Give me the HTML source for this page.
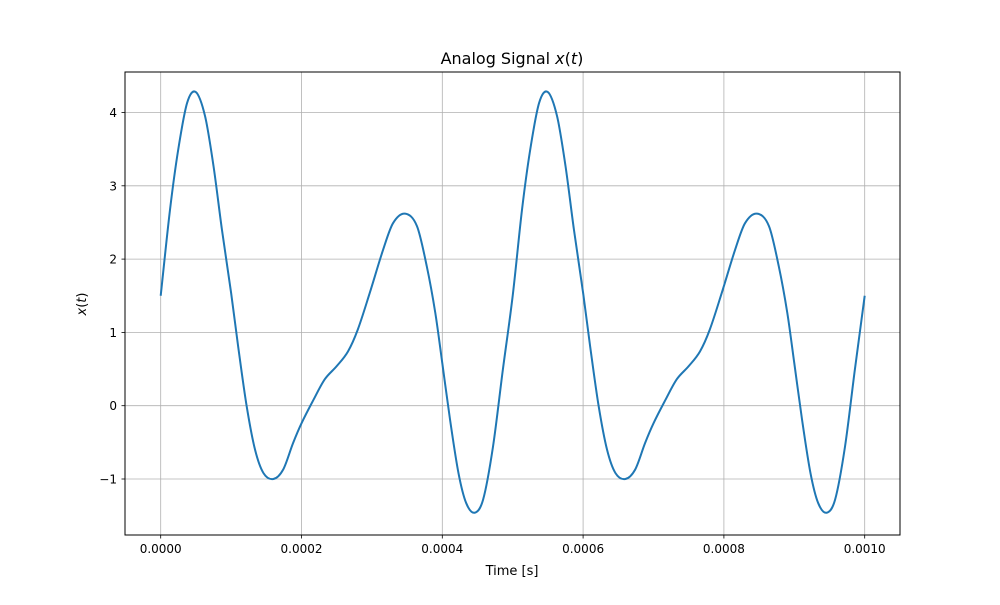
<!DOCTYPE html>
<html><head><meta charset="utf-8"><style>
body{margin:0;background:#fff;}
svg text{font-family:"DejaVu Sans","Liberation Sans",sans-serif;fill:#000;}
</style></head><body>
<svg id="chart" width="1000" height="600">
<rect width="1000" height="600" fill="#fff"/>
<g id="grid"></g>
<g id="ticks"></g>
<path id="line" fill="none" stroke="#1f77b4" stroke-width="2"/>
<rect x="125" y="72" width="775" height="463" fill="none" stroke="#000" stroke-width="1"/>
<text x="512" y="64" font-size="16" text-anchor="middle">Analog Signal <tspan font-style="italic">x</tspan>(<tspan font-style="italic">t</tspan>)</text>
<text x="512" y="575" font-size="13" text-anchor="middle">Time [s]</text>
<text transform="translate(86,304) rotate(-90)" font-size="13" text-anchor="middle"><tspan font-style="italic">x</tspan>(<tspan font-style="italic">t</tspan>)</text>
</svg>
<script>
const halfT=[0,0.0000133,0.000025,0.0000375,0.0000497,0.000063,0.000075,0.000087,0.0001,0.00011,0.000122,0.000134,0.000146,0.00016,0.000174,0.000188,0.0002,0.000217,0.000233,0.00025,0.000266,0.00028,0.000297,0.000316,0.00033,0.000347,0.000364,0.000378,0.00039,0.0004,0.000411,0.000423,0.000434,0.000446,0.000458,0.000472,0.000486];
const halfV=[1.5,2.68,3.5,4.13,4.28,3.95,3.27,2.4,1.54,0.81,0,-0.6,-0.92,-1.0,-0.87,-0.51,-0.24,0.08,0.36,0.54,0.74,1.04,1.54,2.13,2.49,2.62,2.45,1.9,1.27,0.58,-0.19,-0.92,-1.33,-1.46,-1.28,-0.56,0.49];
const period=0.0005;
const xTicks=[0,0.0002,0.0004,0.0006,0.0008,0.001];
const xTickLabels=["0.0000","0.0002","0.0004","0.0006","0.0008","0.0010"];
const yTicks=[-1,0,1,2,3,4];
const yTickLabels=["\u22121","0","1","2","3","4"];
const X=t=>160.7+t/0.0002*140.8;
const Y=v=>405.7-v*73.3;
const ns="http://www.w3.org/2000/svg";
const grid=document.getElementById('grid'),ticks=document.getElementById('ticks');
function mk(tag,attrs,parent){const e=document.createElementNS(ns,tag);for(const k in attrs)e.setAttribute(k,attrs[k]);parent.appendChild(e);return e;}
xTicks.forEach((t,i)=>{
 const g=mk('line',{x1:X(t),x2:X(t),y1:72,y2:535,stroke:'#b0b0b0','stroke-width':0.8},grid);
 
 
 const tk=mk('line',{x1:X(t),x2:X(t),y1:535,y2:538.5,stroke:'#000','stroke-width':0.8},ticks);
 
 
 const tx=mk('text',{x:X(t),y:553,'font-size':12,'text-anchor':'middle'},ticks);
 tx.textContent=xTickLabels[i];
 
 
});
yTicks.forEach((v,i)=>{
 const g=mk('line',{x1:125,x2:900,y1:Y(v),y2:Y(v),stroke:'#b0b0b0','stroke-width':0.8},grid);
 
 
 const tk=mk('line',{x1:121.5,x2:125,y1:Y(v),y2:Y(v),stroke:'#000','stroke-width':0.8},ticks);
 
 
 const tx=mk('text',{x:117,y:Y(v)+4.5,'font-size':12,'text-anchor':'end'},ticks);
 tx.textContent=yTickLabels[i];
 
 
});
const T=[],V=[];
for(let p=0;p<2;p++)halfT.forEach((t,i)=>{T.push(t+p*period);V.push(halfV[i]);});
T.push(2*period);V.push(halfV[0]);
const n=T.length;
const M=T.map((t,i)=>{
 const a=Math.max(0,i-1),b=Math.min(n-1,i+1);
 return (V[b]-V[a])/(T[b]-T[a]);
});
let d=`M${X(T[0])},${Y(V[0])}`;
for(let i=0;i<n-1;i++){
 const h=T[i+1]-T[i];
 const c1t=T[i]+h/3,c1v=V[i]+M[i]*h/3;
 const c2t=T[i+1]-h/3,c2v=V[i+1]-M[i+1]*h/3;
 d+=`C${X(c1t)},${Y(c1v)} ${X(c2t)},${Y(c2v)} ${X(T[i+1])},${Y(V[i+1])}`;
}
document.getElementById('line').setAttribute('d',d);
</script>
</body></html>
